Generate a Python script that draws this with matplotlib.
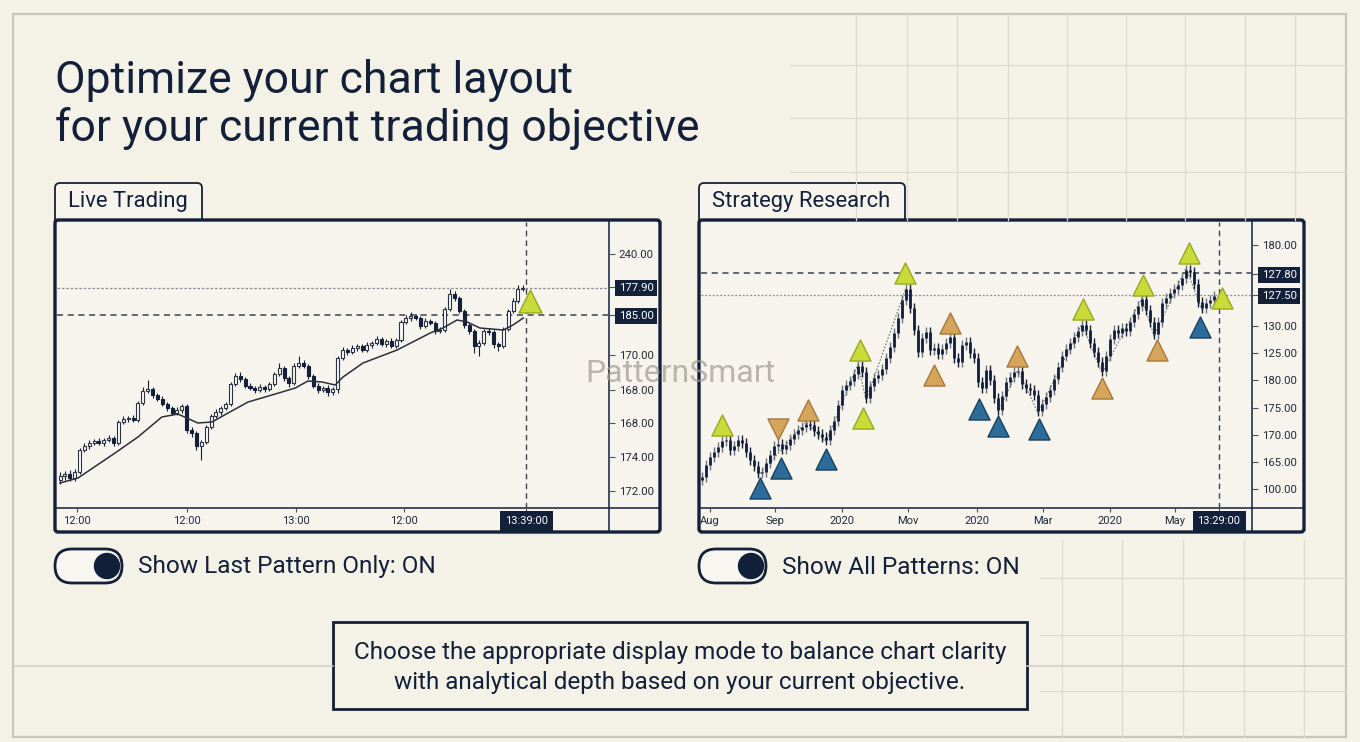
import matplotlib.pyplot as plt
import numpy as np
from matplotlib.patches import FancyBboxPatch, Rectangle, Circle

plt.rcParams['font.family'] = ['Roboto', 'DejaVu Sans']

NAVY = '#13203a'
BG = '#f4f1e6'
PANEL = '#f6f4ec'
GRID = '#dddbd1'

# ---------------- data: live trading panel (candles) ----------------
live_open0 = 164
live_close = [166, 167, 165, 168, 179, 181, 182.5, 183.5, 182.5, 184,
              185, 182.5, 193, 194.5, 195, 194, 202.5, 208.5, 209.5, 206.5,
              204.5, 202, 200, 197.5, 199, 201, 189, 187.5, 181, 183,
              190.5, 196, 198, 200, 202, 212, 216, 214.5, 211, 210,
              209, 210.5, 209.5, 212, 217, 220, 215, 212.5, 221, 222.5,
              221, 216, 211, 209, 210, 208, 209.5, 225, 229, 228,
              230, 231, 229, 231.5, 232.5, 234.5, 232, 233.5, 231, 234,
              243, 245, 246, 245, 241, 243.5, 242.5, 238.5, 239, 249.5,
              257, 255, 248.5, 241.5, 238.5, 231, 232.5, 238.5, 238, 232,
              231, 239.5, 248.5, 253.5, 259.5, 260]
live_wick_up = [2, 1.5, 2, 1.5, 1, 1.5, 1.5, 1, 1.5, 1,
                1.5, 1, 1, 1.5, 1, 1.5, 1, 2, 4.5, 1,
                1, 1.5, 1, 1, 1.5, 1, 1, 1.5, 1, 1,
                1, 1, 1.5, 1, 1, 1, 1.5, 2, 1, 1.5,
                1, 1.5, 1, 1, 1, 2.5, 1, 1, 1.5, 3.5,
                1.5, 1, 1, 1.5, 1, 1.5, 1, 1, 1.5, 1,
                1.5, 1, 1, 1.5, 1, 1.5, 1, 1, 1.5, 1,
                1, 1.5, 2, 1, 1, 1.5, 1, 1, 1.5, 1,
                2.5, 1.5, 1, 1, 1, 1, 1.5, 1, 1.5, 1,
                1, 1, 1, 1.5, 2, 1.5]
live_wick_dn = [2, 2, 1.5, 1.5, 1, 1, 1.5, 1, 1, 1.5,
                1, 1.5, 1, 1, 1.5, 1, 1, 1, 1, 1.5,
                1, 1, 1.5, 1, 1, 1.5, 1.5, 2, 2, 7,
                1, 1, 1, 1.5, 1, 1, 1, 1.5, 1, 1,
                1.5, 1, 1.5, 1, 1, 1, 1.5, 2, 1, 1,
                1, 1.5, 1, 1.5, 1, 2, 1.5, 2, 1, 1.5,
                1, 1.5, 1, 1, 1.5, 1, 1, 1.5, 1, 1,
                1, 1, 1.5, 1, 1.5, 1, 1, 1.5, 1, 1,
                1, 1.5, 1, 1.5, 1.5, 3.5, 5, 1, 1.5, 2,
                2.5, 1, 1, 1, 1, 1]
live_ma_x = [0, 3.7, 11.3, 16, 20.9, 24.2, 28.3, 31.2, 34.5, 38.6, 43.5, 48.3, 50.9,
             53.8, 56.5, 58.1, 62.2, 69.2, 76, 78.6, 81.5, 83.6, 86.2, 91, 93, 95.1]
live_ma = [162.5, 165, 177.5, 185.5, 195.5, 197, 192.5, 193, 197.5, 203, 206.5, 210, 213.5,
           213, 211.5, 215.5, 222.5, 229, 237.5, 240, 244, 243, 240, 239, 241.5, 245]
live_yticks = [277, 260.5, 246.5, 226.5, 209, 192.5, 175.5, 158.5]
live_ylabels = ['240.00', '177.90', '185.00', '170.00', '168.00', '168.00', '174.00', '172.00']
live_xticks = [3.5, 26.1, 48.5, 70.6, 95.7]
live_xlabels = ['12:00', '12:00', '13:00', '12:00', '13:39:00']
live_dotted_level = 260
live_dashed_level = 246.5
live_cursor = 95.7
live_signal_x = [96.5]
live_signal_y = [253.5]

# ---------------- data: strategy research panel (OHLC bars) ----------------
res_open0 = 104
res_close = [105.5, 111.5, 115.5, 118, 120.5, 123.5, 124, 119, 121, 124,
             122.5, 118, 114, 111, 107.5, 108, 112.5, 116.5, 121, 122,
             119.5, 121.5, 124.5, 127, 129, 130.5, 132, 131.5, 128.5, 127,
             125.5, 124, 129, 133.5, 141.5, 149, 151.5, 153.5, 157, 161,
             158, 145, 151, 155, 156.5, 159.5, 165, 170.5, 177.5, 185,
             194, 199.5, 190, 179, 168, 175, 178, 169, 170, 167,
             169.5, 172.5, 175.5, 165, 163, 171.5, 173, 167.5, 165, 153,
             150, 159, 154, 145, 139, 146, 153, 155.5, 158, 158.5,
             152, 150, 149, 146.5, 138.5, 142, 145.5, 149, 154.5, 160.5,
             166, 169.5, 172.5, 175.5, 178.5, 181.5, 179, 172.5, 168, 163,
             158.5, 166, 174.5, 179, 177.5, 180, 178.5, 183, 187, 191,
             194.5, 189, 183, 177, 183, 192.5, 195, 197.5, 199.5, 201.5,
             205, 209, 208, 202, 193, 190, 192.5, 194, 196]
res_swings_a_x = [14, 26, 31, 39, 41, 51]
res_swings_a_y = [106, 133, 123, 162, 144, 200]
res_swings_b_x = [74, 79, 84, 95, 100, 110, 113, 121, 125]
res_swings_b_y = [138, 159, 137.5, 182, 157.5, 195, 176, 210, 189]
res_yticks = [221.5, 207, 196.5, 181, 167.5, 154, 140, 126.5, 113, 99.5]
res_ylabels = ['180.00', '127.80', '127.50', '130.00', '125.00', '180.00',
               '175.00', '170.00', '165.00', '100.00']
res_xticks = [2, 18.25, 35, 51.5, 68.75, 85.25, 102, 118.25, 129.25]
res_xlabels = ['Aug', 'Sep', '2020', 'Mov', '2020', 'Mar', '2020', 'May', '13:29:00']
res_dashed_level = 207.5
res_dotted_level = 196.5
res_cursor = 129.25

green_x = [5, 39.5, 40.25, 50.75, 95.25, 110.25, 121.75, 130]
green_y = [131.5, 169, 135, 207.5, 189.5, 201.5, 217.5, 195]
orange_x = [26.5, 62, 58, 78.75, 100, 113.75]
orange_y = [139, 182.5, 156.5, 166, 150, 169]
orange_dn_x = [19]
orange_dn_y = [129.5]
blue_x = [14.5, 19.75, 31, 69.25, 74, 84.25, 124.5]
blue_y = [100, 110, 114.5, 139.5, 131, 129.5, 180.5]

GREEN, GREEN_E = '#c8db3a', '#98a824'
ORANGE, ORANGE_E = '#d6a55c', '#a8793a'
BLUE, BLUE_E = '#2c6c9b', '#19435f'

W, H = 1360, 742
fig = plt.figure(figsize=(W / 100, H / 100), dpi=100, facecolor=BG)

# background layer in pixel coordinates
ax0 = fig.add_axes([0, 0, 1, 1], zorder=0)
ax0.set_xlim(0, W)
ax0.set_ylim(H, 0)
ax0.axis('off')

# faint background grid
for gx in [856, 907, 957, 1008, 1067, 1126, 1185, 1245, 1295]:
    ax0.plot([gx, gx], [14, 220], color=GRID, lw=0.9)
for gy in [65, 118, 172]:
    ax0.plot([790, 1346], [gy, gy], color=GRID, lw=0.9)
for gx in [1062, 1122, 1183, 1244, 1304]:
    ax0.plot([gx, gx], [540, 737], color=GRID, lw=0.9)
for gy in [578, 635, 691]:
    ax0.plot([1040, 1346], [gy, gy], color=GRID, lw=0.9)
ax0.plot([13, 333], [666, 666], color='#cfcdc4', lw=1.1)
ax0.plot([1027, 1346], [666, 666], color='#cfcdc4', lw=1.1)

ax0.add_patch(Rectangle((13, 14), 1333, 723, fill=False, ec='#c8c6bd', lw=1.6))

# title
ax0.text(55, 93, 'Optimize your chart layout', fontsize=32, color=NAVY, va='baseline')
ax0.text(55, 141, 'for your current trading objective', fontsize=32, color=NAVY, va='baseline')


def panel(x0, tab_w, label, sep_x):
    ax0.add_patch(FancyBboxPatch((x0, 183), tab_w, 45, boxstyle='round,pad=0,rounding_size=5',
                                 fc=PANEL, ec=NAVY, lw=1.3))
    ax0.text(x0 + 13, 202, label, fontsize=15.8, color=NAVY, va='center')
    ax0.add_patch(FancyBboxPatch((x0, 220), 605, 312, boxstyle='round,pad=0,rounding_size=3',
                                 fc=PANEL, ec=NAVY, lw=2.4))
    ax0.plot([sep_x, sep_x], [221, 531], color=NAVY, lw=1.1)
    ax0.plot([x0 + 1, x0 + 604], [508, 508], color=NAVY, lw=1.1)


panel(55, 147, 'Live Trading', 609)
panel(699, 206, 'Strategy Research', 1252)


def toggle(x0, label):
    ax0.add_patch(FancyBboxPatch((x0, 549), 67, 34, boxstyle='round,pad=0,rounding_size=17',
                                 fc='#f8f6f0', ec=NAVY, lw=2))
    ax0.add_patch(Circle((x0 + 52, 566), 12.5, fc=NAVY, ec=NAVY))
    ax0.text(x0 + 83, 567, label, fontsize=17.6, color=NAVY, va='center')


toggle(55, 'Show Last Pattern Only: ON')
toggle(699, 'Show All Patterns: ON')

ax0.add_patch(Rectangle((333, 622), 694, 87, fc=BG, ec=NAVY, lw=2))
ax0.text(680, 653, 'Choose the appropriate display mode to balance chart clarity',
         fontsize=17.5, color=NAVY, ha='center', va='center')
ax0.text(680, 682, 'with analytical depth based on your current objective.',
         fontsize=17.5, color=NAVY, ha='center', va='center')


def chart_axes(x0, x1):
    ax = fig.add_axes([x0 / W, (H - 508) / H, (x1 - x0) / W, (508 - 222) / H], zorder=2)
    ax.set_facecolor('none')
    for s in ax.spines.values():
        s.set_visible(False)
    ax.yaxis.tick_right()
    ax.tick_params(axis='y', direction='out', length=4, pad=3, colors='#4a5263',
                   labelcolor='#222a38', labelsize=8.2)
    ax.tick_params(axis='x', direction='out', length=3, pad=3, colors='#4a5263',
                   labelcolor='#222a38', labelsize=8)
    return ax


def highlight(lbl, pad=0.3):
    lbl.set_color('white')
    lbl.set_bbox(dict(boxstyle='square,pad=%s' % pad, fc=NAVY, ec='none'))


# ---------------- live trading chart ----------------
axL = chart_axes(57, 609)
close = np.array(live_close)
opens = np.concatenate([[live_open0], close[:-1]])
xi = np.arange(len(close))
highs = np.maximum(opens, close) + np.array(live_wick_up)
lows = np.minimum(opens, close) - np.array(live_wick_dn)
up = close >= opens
axL.vlines(xi, lows, highs, color=NAVY, lw=0.8, zorder=2)
axL.bar(xi[up], (close - opens)[up], bottom=opens[up], width=0.62,
        color='#fbfaf5', edgecolor='#2a3346', lw=0.8, zorder=3)
axL.bar(xi[~up], (close - opens)[~up], bottom=opens[~up], width=0.62,
        color=NAVY, edgecolor=NAVY, lw=0.8, zorder=3)
axL.plot(live_ma_x, live_ma, color='#2a2f3a', lw=1.1, zorder=4)
axL.axhline(live_dotted_level, color='#8a8d92', lw=0.9, ls=(0, (2, 1.5)), zorder=1)
axL.axhline(live_dashed_level, color='#3c4250', lw=1.1, ls=(0, (4, 3)), zorder=1)
axL.axvline(live_cursor, color='#3c4250', lw=1.0, ls=(0, (4, 3)), zorder=1)
axL.scatter(live_signal_x, live_signal_y, marker='^', s=270, c=GREEN, edgecolors=GREEN_E,
            linewidths=1, zorder=6)
axL.set_xlim(-0.62, 112.7)
axL.set_ylim(150, 293)
axL.set_yticks(live_yticks, live_ylabels)
axL.set_xticks(live_xticks, live_xlabels)
for i in (1, 2):
    highlight(axL.get_yticklabels()[i])
highlight(axL.get_xticklabels()[-1], 0.45)

# ---------------- strategy research chart ----------------
axR = chart_axes(701, 1252)
rc = np.array(res_close)
ro = np.concatenate([[res_open0], rc[:-1]])
rx = np.arange(len(rc))
rup = rc >= ro
bar_pad = 2.5
rh = np.maximum(ro, rc) + bar_pad
rl = np.minimum(ro, rc) - bar_pad
axR.vlines(rx[rup], rl[rup], rh[rup], color='#6b7486', lw=1.0, zorder=2)
axR.vlines(rx[~rup], rl[~rup], rh[~rup], color=NAVY, lw=1.0, zorder=2)
axR.vlines(rx, np.minimum(ro, rc), np.maximum(ro, rc), color=NAVY, lw=2.0, zorder=3)
axR.plot(res_swings_a_x, res_swings_a_y, color='#6c7078', lw=0.8, ls=(0, (1.5, 1.5)), zorder=1)
axR.plot(res_swings_b_x, res_swings_b_y, color='#6c7078', lw=0.8, ls=(0, (1.5, 1.5)), zorder=1)
axR.axhline(res_dashed_level, color='#3c4250', lw=1.1, ls=(0, (4, 3)), zorder=1)
axR.axhline(res_dotted_level, color='#8a8d92', lw=0.9, ls=(0, (1.5, 1.5)), zorder=1)
axR.axvline(res_cursor, color='#3c4250', lw=1.0, ls=(0, (4, 3)), zorder=1)
tri = dict(s=230, linewidths=1, zorder=6)
axR.scatter(green_x, green_y, marker='^', c=GREEN, edgecolors=GREEN_E, **tri)
axR.scatter(orange_x, orange_y, marker='^', c=ORANGE, edgecolors=ORANGE_E, **tri)
axR.scatter(orange_dn_x, orange_dn_y, marker='v', c=ORANGE, edgecolors=ORANGE_E, **tri)
axR.scatter(blue_x, blue_y, marker='^', c=BLUE, edgecolors=BLUE_E, **tri)
axR.set_xlim(-0.25, 137.5)
axR.set_ylim(90, 233)
axR.set_yticks(res_yticks, res_ylabels)
axR.set_xticks(res_xticks, res_xlabels)
for i in (1, 2):
    highlight(axR.get_yticklabels()[i])
highlight(axR.get_xticklabels()[-1], 0.45)

# watermark
fig.text(680 / W, 1 - 373 / H, 'PatternSmart', fontsize=23, color='#9e9a92', alpha=0.7,
         ha='center', va='center', zorder=10)

fig.savefig('out.png', dpi=100, facecolor=BG)
